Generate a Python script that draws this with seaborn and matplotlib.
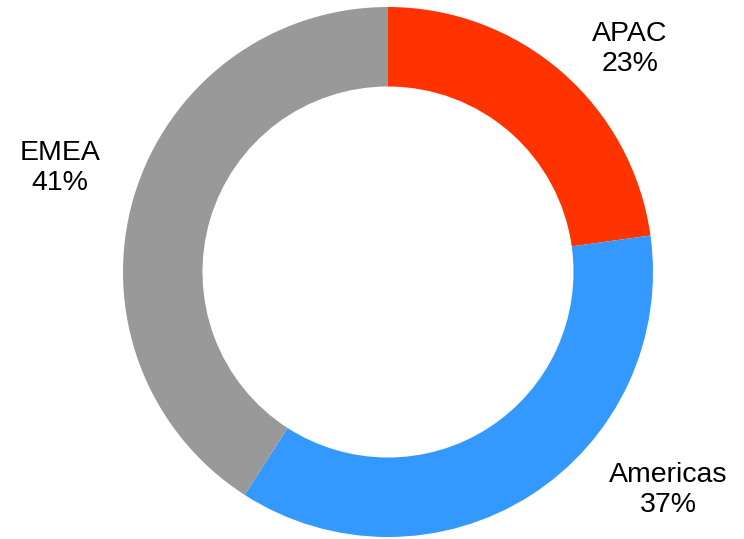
import matplotlib
matplotlib.use("Agg")
import matplotlib.pyplot as plt
import seaborn as sns

regions = ["APAC", "Americas", "EMEA"]
shares = [22.8, 36.3, 40.9]
pct_labels = ["23%", "37%", "41%"]

colors = sns.color_palette(["#FF3300", "#3399FF", "#999999"])

sns.set_theme(style="white")
plt.rcParams["font.family"] = ["Liberation Sans", "DejaVu Sans"]

fig = plt.figure(figsize=(7.44, 5.39), dpi=100)
ax = fig.add_axes([0, 0, 1, 1])

wedges, _ = ax.pie(shares, colors=colors, startangle=90, counterclock=False,
                   radius=1.0, wedgeprops=dict(width=0.30, linewidth=0))

# label anchor positions (in units of the outer radius)
label_pos = [(0.913, 0.842), (1.057, -0.823), (-1.238, 0.392)]
for name, pct, (x, y) in zip(regions, pct_labels, label_pos):
    ax.text(x, y, f"{name}\n{pct}", ha="center", va="center",
            fontsize=20.5, color="#000000", linespacing=1.2)

R = 265.0
ax.set_xlim(-388 / R, (744 - 388) / R)
ax.set_ylim(-(539 - 272) / R, 272 / R)
ax.set_aspect("equal")
ax.axis("off")

fig.savefig("out.png", dpi=100)
